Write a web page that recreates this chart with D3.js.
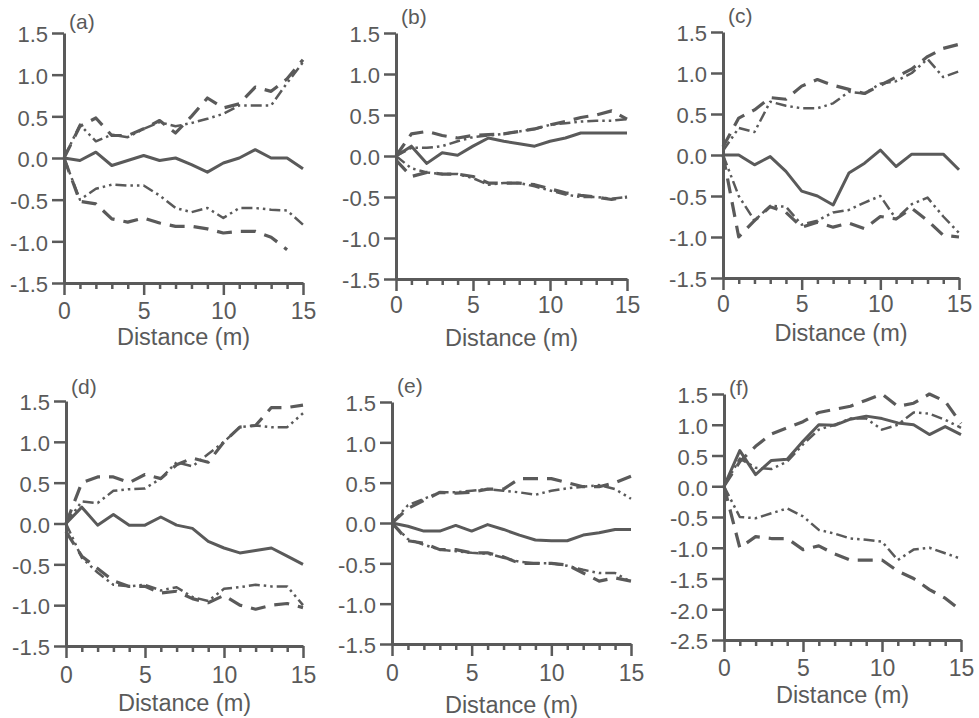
<!DOCTYPE html>
<html><head><meta charset="utf-8">
<script src="https://cdn.jsdelivr.net/npm/d3@7"></script>
<style>
html,body{margin:0;padding:0;background:#fff;}
svg text{font-family:"Liberation Sans",Arial,Helvetica,sans-serif;fill:#5a5a5a;}
</style></head>
<body><svg id="chart" width="979" height="718"></svg>
<script>
// ---------- data ----------
const distance = [0,1,2,3,4,5,6,7,8,9,10,11,12,13,14,15];
const xTickLabels = [0,5,10,15];
const yTicksStd = [-1.5,-1.0,-0.5,0.0,0.5,1.0,1.5];
const yTicksF = [-2.5,-2.0,-1.5,-1.0,-0.5,0.0,0.5,1.0,1.5];
const panelLabels = ["(a)","(b)","(c)","(d)","(e)","(f)"];

const aMean   = [0,-0.03,0.07,-0.09,-0.03,0.03,-0.03,0.0,-0.08,-0.17,-0.06,0.0,0.1,0.0,0.0,-0.13];
const aUpDash = [0,0.38,0.48,0.27,0.27,0.35,0.45,0.3,0.5,0.72,0.6,0.65,0.85,0.8,0.95,1.18];
const aUpDot  = [0,0.4,0.2,0.28,0.25,0.35,0.43,0.38,0.42,0.47,0.53,0.63,0.63,0.63,0.9,1.15];
const aLoDot  = [0,-0.5,-0.37,-0.32,-0.33,-0.33,-0.45,-0.6,-0.65,-0.6,-0.72,-0.6,-0.6,-0.62,-0.63,-0.8];
const aLoDash = [0,-0.52,-0.55,-0.73,-0.77,-0.72,-0.78,-0.82,-0.82,-0.85,-0.9,-0.88,-0.88,-0.95,-1.1,null];

const bMean   = [0,0.12,-0.09,0.04,0.01,0.12,0.22,0.18,0.15,0.12,0.18,0.22,0.28,0.28,0.28,0.28];
const bUpDash = [0,0.27,0.3,0.25,0.22,0.25,0.26,0.27,0.3,0.33,0.38,0.42,0.47,0.5,0.55,0.45];
const bUpDot  = [0,0.1,0.1,0.12,0.18,0.23,0.25,0.27,0.3,0.33,0.38,0.4,0.42,0.43,0.43,0.45];
const bLoDash = [-0.05,-0.25,-0.2,-0.22,-0.22,-0.25,-0.33,-0.33,-0.33,-0.35,-0.4,-0.45,-0.48,-0.5,-0.53,-0.5];
const bLoDot  = [0,-0.15,-0.2,-0.22,-0.22,-0.27,-0.35,-0.33,-0.33,-0.37,-0.42,-0.47,-0.5,-0.5,-0.52,-0.5];

const cMean   = [0,0,-0.12,-0.02,-0.2,-0.44,-0.5,-0.61,-0.22,-0.1,0.06,-0.14,0.01,0.01,0.01,-0.18];
const cUpDash = [0.1,0.45,0.55,0.7,0.68,0.84,0.92,0.85,0.8,0.75,0.85,0.95,1.05,1.2,1.3,1.35];
const cUpDot  = [0.05,0.33,0.28,0.65,0.6,0.57,0.57,0.63,0.77,0.75,0.87,0.9,1.0,1.17,0.95,1.02];
const cLoDash = [0,-1.0,-0.8,-0.63,-0.7,-0.88,-0.82,-0.88,-0.83,-0.9,-0.75,-0.78,-0.65,-0.8,-0.98,-1.0];
const cLoDot  = [0,-0.5,-0.8,-0.62,-0.63,-0.85,-0.8,-0.7,-0.67,-0.58,-0.5,-0.78,-0.6,-0.52,-0.75,-0.95];

const dMean   = [0,0.2,-0.02,0.11,-0.02,-0.02,0.08,-0.02,-0.06,-0.22,-0.3,-0.36,-0.33,-0.3,-0.4,-0.5];
const dUpDash = [0,0.5,0.57,0.57,0.5,0.6,0.55,0.72,0.8,0.75,1.0,1.18,1.2,1.42,1.42,1.45];
const dUpDot  = [0,0.27,0.25,0.4,0.42,0.43,0.55,0.75,0.7,0.85,1.0,1.18,1.2,1.18,1.18,1.35];
const dLoDash = [-0.1,-0.4,-0.55,-0.7,-0.77,-0.77,-0.85,-0.83,-0.92,-0.97,-0.88,-1.0,-1.05,-1.0,-0.98,-1.03];
const dLoDot  = [0,-0.42,-0.6,-0.75,-0.77,-0.75,-0.82,-0.78,-0.9,-0.95,-0.8,-0.78,-0.75,-0.77,-0.77,-1.0];

const eMean   = [0,-0.04,-0.1,-0.1,-0.03,-0.1,-0.02,-0.08,-0.15,-0.21,-0.22,-0.22,-0.15,-0.12,-0.08,-0.08];
const eUpDash = [0,0.18,0.28,0.38,0.37,0.38,0.42,0.42,0.55,0.55,0.55,0.5,0.45,0.45,0.5,0.58];
const eUpDot  = [0,0.22,0.3,0.38,0.38,0.4,0.42,0.4,0.38,0.35,0.4,0.43,0.45,0.47,0.42,0.3];
const eLoDash = [0,-0.22,-0.25,-0.33,-0.33,-0.37,-0.37,-0.42,-0.5,-0.5,-0.5,-0.52,-0.62,-0.72,-0.68,-0.72];
const eLoDot  = [0,-0.2,-0.27,-0.33,-0.35,-0.37,-0.38,-0.43,-0.48,-0.5,-0.5,-0.53,-0.58,-0.62,-0.62,-0.73];

const fMean   = [0,0.58,0.19,0.42,0.44,0.73,1.0,0.99,1.09,1.14,1.1,1.03,1.0,0.84,0.97,0.84];
const fUpDash = [0,0.4,0.65,0.85,0.95,1.05,1.2,1.25,1.3,1.4,1.5,1.3,1.35,1.5,1.38,1.02];
const fUpDot  = [0,0.45,0.3,0.28,0.4,0.68,0.92,1.0,1.1,1.1,0.92,1.0,1.2,1.18,1.08,0.95];
const fLoDash = [0,-1.0,-0.82,-0.85,-0.85,-1.03,-0.97,-1.1,-1.2,-1.2,-1.2,-1.38,-1.5,-1.68,-1.82,-2.02];
const fLoDot  = [0,-0.5,-0.52,-0.44,-0.36,-0.49,-0.71,-0.77,-0.85,-0.87,-0.9,-1.2,-1.03,-1.0,-1.09,-1.18];

// ---------- layout ----------
const INK = "#5a5a5a";
const panels = [
  {label:panelLabels[0], x0:64,  x1:303, yTop:33,  yBot:283, dom:[-1.5,1.5], ticks:yTicksStd, lblOff:36, titleY:345, labY:29,
   series:[aMean,aUpDash,aUpDot,aLoDash,aLoDot]},
  {label:panelLabels[1], x0:396, x1:627, yTop:33,  yBot:279, dom:[-1.5,1.5], ticks:yTicksStd, lblOff:34, titleY:346, labY:24,
   series:[bMean,bUpDash,bUpDot,bLoDash,bLoDot]},
  {label:panelLabels[2], x0:723, x1:959, yTop:32,  yBot:278, dom:[-1.5,1.5], ticks:yTicksStd, lblOff:34, titleY:341, labY:23,
   series:[cMean,cUpDash,cUpDot,cLoDash,cLoDot]},
  {label:panelLabels[3], x0:66,  x1:303, yTop:401, yBot:646, dom:[-1.5,1.5], ticks:yTicksStd, lblOff:37, titleY:711, labY:394,
   series:[dMean,dUpDash,dUpDot,dLoDash,dLoDot]},
  {label:panelLabels[4], x0:392, x1:631, yTop:402, yBot:644, dom:[-1.5,1.5], ticks:yTicksStd, lblOff:37, titleY:713, labY:393,
   series:[eMean,eUpDash,eUpDot,eLoDash,eLoDot]},
  {label:panelLabels[5], x0:724, x1:961, yTop:394, yBot:640, dom:[-2.5,1.5], ticks:yTicksF, lblOff:36, titleY:703, labY:395,
   series:[fMean,fUpDash,fUpDot,fLoDash,fLoDot]}
];
const styles = [
  {dash:null, w:3},
  {dash:"15,9", w:3.2},
  {dash:"11,4,2.5,4,2.5,4", w:2.5},
  {dash:"15,9", w:3.2},
  {dash:"11,4,2.5,4,2.5,4", w:2.5}
];

const svg = d3.select("#chart");

panels.forEach(p => {
  const x = d3.scaleLinear().domain([0,15]).range([p.x0,p.x1]);
  const y = d3.scaleLinear().domain(p.dom).range([p.yBot,p.yTop]);
  const g = svg.append("g");

  // y axis
  const ya = g.append("g").attr("transform",`translate(${p.x0},0)`)
    .call(d3.axisLeft(y).tickValues(p.ticks).tickSize(12).tickSizeOuter(0).tickPadding(4)
      .tickFormat(d => d.toFixed(1)));
  ya.select(".domain").attr("stroke",INK).attr("stroke-width",3);
  ya.selectAll(".tick line").attr("stroke",INK).attr("stroke-width",2.5);
  ya.selectAll(".tick text").attr("font-size",22).attr("fill",INK).attr("dy","0.40em")
    .style("font-family","'Liberation Sans',Arial,sans-serif");

  // x axis
  const xa = g.append("g").attr("transform",`translate(0,${p.yBot})`)
    .call(d3.axisBottom(x).tickValues(distance).tickSize(6).tickSizeOuter(0)
      .tickFormat(d => xTickLabels.includes(d) ? String(d) : ""));
  xa.select(".domain").attr("stroke",INK).attr("stroke-width",3);
  xa.selectAll(".tick line").attr("stroke",INK).attr("stroke-width",2.5)
    .attr("y2", d => xTickLabels.includes(d) ? 12 : 6);
  xa.selectAll(".tick text").attr("font-size",23).attr("fill",INK)
    .attr("y",p.lblOff).attr("dy",0)
    .style("font-family","'Liberation Sans',Arial,sans-serif");

  // axis title
  g.append("text").attr("x",(p.x0+p.x1)/2).attr("y",p.titleY)
    .attr("text-anchor","middle").attr("font-size",23.5).text("Distance (m)");
  // panel label
  g.append("text").attr("x",p.x0+5).attr("y",p.labY)
    .attr("font-size",21).text(p.label);

  // lines
  const line = d3.line().defined(d => d[1] !== null)
    .x(d => x(d[0])).y(d => y(d[1]));
  p.series.forEach((vals,i) => {
    const pts = distance.map((dv,k) => [dv, vals[k]]);
    g.append("path").attr("d",line(pts)).attr("fill","none")
      .attr("stroke",INK).attr("stroke-width",styles[i].w)
      .attr("stroke-linejoin","round").attr("stroke-linecap","butt")
      .attr("stroke-dasharray",styles[i].dash);
  });
});
</script></body></html>
